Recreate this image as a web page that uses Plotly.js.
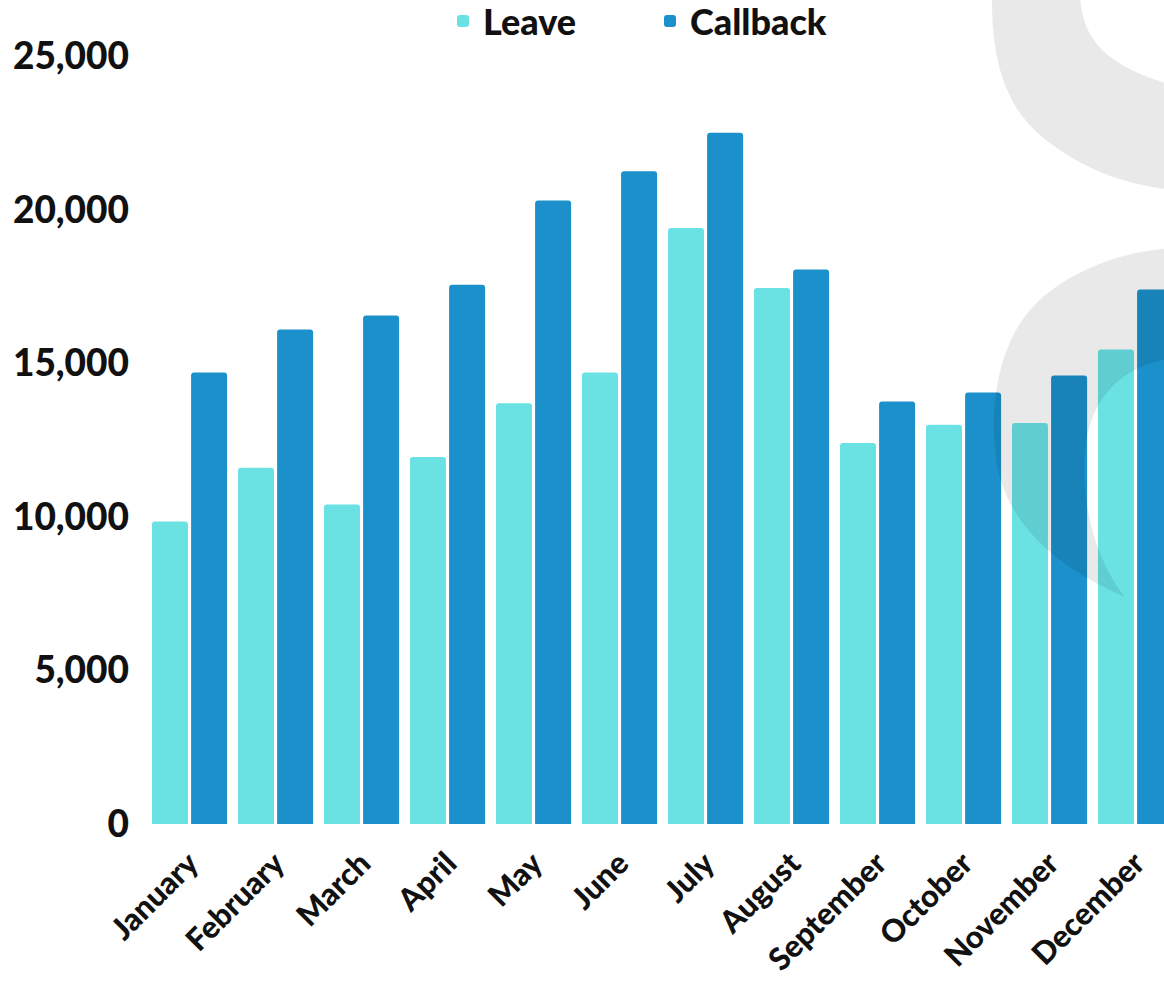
<!DOCTYPE html>
<html>
<head>
<meta charset="utf-8">
<script src="https://cdn.plot.ly/plotly-3.0.1.min.js"></script>
<style>
  html, body { margin: 0; padding: 0; background: #ffffff; }
  #chart { width: 1164px; height: 986px; }
</style>
</head>
<body>
<div id="chart"></div>
<script>
// ---- data ----
const months = ["January", "February", "March", "April", "May", "June",
                "July", "August", "September", "October", "November", "December"];
const leave = [9850, 11600, 10400, 11950, 13700, 14700, 19400, 17450, 12400, 13000, 13050, 15450];
const callback = [14700, 16100, 16550, 17550, 20300, 21250, 22500, 18050, 13750, 14050, 14600, 17400];
const yTicks = [0, 5000, 10000, 15000, 20000, 25000];
const yTickText = ["0", "5,000", "10,000", "15,000", "20,000", "25,000"];

// ---- layout geometry ----
const W = 1164, H = 986;
const M = { l: 140, r: 0, t: 56, b: 162, autoexpand: false };
const plotW = W - M.l - M.r, plotH = H - M.t - M.b;
function px(x) { return ((x - M.l) / plotW).toFixed(4); }
function py(y) { return ((H - M.b - y) / plotH).toFixed(4); }
function pathFrom(cmds) {
  return cmds.map(c => {
    const op = c[0];
    const pts = c.slice(1);
    let s = op;
    for (let i = 0; i < pts.length; i += 2) s += " " + px(pts[i]) + "," + py(pts[i + 1]);
    return s;
  }).join(" ") + " Z";
}

const upperDeco = pathFrom([
  ["M", 990, -10], ["L", 992, 0],
  ["C", 992, 60, 1005, 105, 1040, 135],
  ["C", 1075, 165, 1120, 185, 1175, 190],
  ["L", 1175, 85],
  ["C", 1150, 80, 1120, 67, 1102, 50],
  ["C", 1088, 35, 1080, 18, 1080, -10]
]);
const lowerDeco = pathFrom([
  ["M", 1175, 248],
  ["C", 1120, 250, 1060, 275, 1030, 310],
  ["C", 1000, 345, 990, 400, 995, 450],
  ["C", 1000, 510, 1040, 560, 1125, 597],
  ["C", 1095, 560, 1080, 500, 1085, 450],
  ["C", 1090, 400, 1120, 365, 1175, 358]
]);

const FONT = "Lato, 'Open Sans', sans-serif";

const traces = [
  {
    type: "bar", name: "Leave", x: months, y: leave,
    marker: { color: "#6ae2e4" }, hoverinfo: "x+y+name"
  },
  {
    type: "bar", name: "Callback", x: months, y: callback,
    marker: { color: "#1b90cb" }, hoverinfo: "x+y+name"
  }
];

const layout = {
  width: W, height: H,
  margin: M,
  paper_bgcolor: "#ffffff",
  plot_bgcolor: "rgba(0,0,0,0)",
  barmode: "group",
  bargap: 0.09,
  bargroupgap: 0.08,
  barcornerradius: 3,
  font: { family: FONT, color: "#111111" },
  showlegend: true,
  legend: {
    orientation: "h",
    x: (650 - M.l) / plotW, xanchor: "center",
    y: (H - M.b - 21) / plotH, yanchor: "middle",
    entrywidth: 162, entrywidthmode: "pixels",
    font: { family: FONT, size: 36, weight: 900, color: "#111111" },
    bgcolor: "rgba(0,0,0,0)",
    itemclick: false, itemdoubleclick: false
  },
  xaxis: {
    type: "category",
    range: [-0.576, 11.331],
    showgrid: false, zeroline: false, showline: false,
    ticks: "",
    tickangle: -45,
    ticklabelstandoff: 14,
    tickfont: { family: FONT, size: 31, weight: 900, color: "#111111" },
    fixedrange: true
  },
  yaxis: {
    range: [0, 25000],
    tickvals: yTicks, ticktext: yTickText,
    showgrid: false, zeroline: false, showline: false,
    ticks: "",
    ticklabelstandoff: 10,
    tickfont: { family: FONT, size: 37, weight: 900, color: "#111111" },
    fixedrange: true
  },
  shapes: [
    { type: "path", xref: "paper", yref: "paper", path: upperDeco,
      fillcolor: "#000000", opacity: 0.085, line: { width: 0 }, layer: "above" },
    { type: "path", xref: "paper", yref: "paper", path: lowerDeco,
      fillcolor: "#000000", opacity: 0.085, line: { width: 0 }, layer: "above" }
  ]
};

Plotly.newPlot("chart", traces, layout, { displayModeBar: false, staticPlot: true });
</script>
</body>
</html>
